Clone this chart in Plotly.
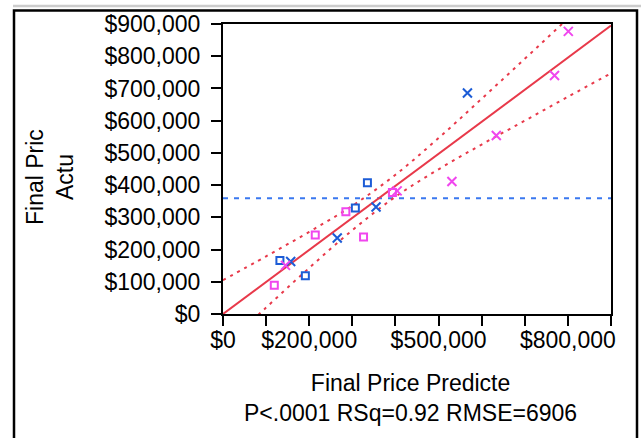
import numpy as np
import plotly.graph_objects as go

# Observations: predicted vs actual final price, by group and marker type
blue_sq_pred = [132000, 191000, 307000, 335000]
blue_sq_act = [166000, 119000, 329000, 407000]

blue_x_pred = [157000, 265000, 355000, 567000]
blue_x_act = [163000, 236000, 332000, 686000]

pink_sq_pred = [119000, 214000, 285000, 326000, 393000]
pink_sq_act = [89000, 245000, 317000, 239000, 377000]

pink_x_pred = [145000, 404000, 531000, 634000, 769000, 801000]
pink_x_act = [151000, 382000, 411000, 554000, 740000, 877000]

# Fitted line and its confidence curves
fit_x = [0, 900000]
fit_y = [0, 895000]
band_x = [0, 100000, 200000, 300000, 400000, 500000, 600000, 700000, 800000, 900000]
band_upper = [105000, 179000, 255000, 336000, 432000, 546000, 668000, 792000, 917000, 1043000]
band_lower = [-105000, 20000, 143000, 260000, 364000, 449000, 526000, 600000, 674000, 747000]

# Axis ticks
y_ticks = [0, 100000, 200000, 300000, 400000, 500000, 600000, 700000, 800000, 900000]
y_labels = ["$0", "$100,000", "$200,000", "$300,000", "$400,000", "$500,000",
            "$600,000", "$700,000", "$800,000", "$900,000"]
x_ticks = y_ticks
x_labels = ["$0", "", "$200,000", "", "", "$500,000", "", "", "$800,000", ""]

BLUE = "#1c5cd6"
PINK = "#f046ee"
RED = "#e8394a"
FONT = "Arial, Liberation Sans, sans-serif"

all_act = blue_sq_act + blue_x_act + pink_sq_act + pink_x_act
mean_act = float(np.mean(all_act))

fig = go.Figure()

fig.add_trace(go.Scatter(x=[0, 900000], y=[mean_act, mean_act], mode="lines",
                         line=dict(color="#3a78f0", width=2, dash="5px,6px"),
                         hoverinfo="skip"))
fig.add_trace(go.Scatter(x=band_x, y=band_upper, mode="lines", line_shape="spline",
                         line=dict(color=RED, width=2, dash="3px,5px")))
fig.add_trace(go.Scatter(x=band_x, y=band_lower, mode="lines", line_shape="spline",
                         line=dict(color=RED, width=2, dash="3px,5px")))
fig.add_trace(go.Scatter(x=fit_x, y=fit_y, mode="lines",
                         line=dict(color=RED, width=2)))

fig.add_trace(go.Scatter(x=blue_sq_pred, y=blue_sq_act, mode="markers",
                         marker=dict(symbol="square-open", size=7, color=BLUE,
                                     line=dict(width=2, color=BLUE))))
fig.add_trace(go.Scatter(x=blue_x_pred, y=blue_x_act, mode="markers",
                         marker=dict(symbol="x-thin-open", size=9, color=BLUE,
                                     line=dict(width=2, color=BLUE))))
fig.add_trace(go.Scatter(x=pink_sq_pred, y=pink_sq_act, mode="markers",
                         marker=dict(symbol="square-open", size=7, color=PINK,
                                     line=dict(width=2, color=PINK))))
fig.add_trace(go.Scatter(x=pink_x_pred, y=pink_x_act, mode="markers",
                         marker=dict(symbol="x-thin-open", size=9, color=PINK,
                                     line=dict(width=2, color=PINK))))

axis_common = dict(showgrid=False, zeroline=False, showline=True, linecolor="black",
                   linewidth=2, mirror=True, ticks="outside", ticklen=10,
                   tickwidth=2, tickcolor="black",
                   tickfont=dict(family=FONT, size=23, color="black"))

fig.update_xaxes(range=[0, 900000], tickvals=x_ticks, ticktext=x_labels,
                 ticklabelstandoff=-6, **axis_common)
fig.update_yaxes(range=[0, 900000], tickvals=y_ticks, ticktext=y_labels,
                 ticklabelstandoff=6, **axis_common)

# Outer frame and light rule above it
W0, W1 = 223, 611
H0, H1 = 24, 314
def px(x):
    return (x - W0) / (W1 - W0)
def py(y):
    return (H1 - y) / (H1 - H0)

fig.add_shape(type="rect", xref="paper", yref="paper",
              x0=px(14), x1=px(637), y0=py(460), y1=py(10.5),
              line=dict(color="black", width=2.5), layer="below")
fig.add_shape(type="line", xref="paper", yref="paper",
              x0=px(13), x1=px(641), y0=py(6), y1=py(6),
              line=dict(color="#cccccc", width=2.5))

fig.add_annotation(text="Final Pric<br>Actu", xref="paper", yref="paper",
                   x=px(50), y=py(177), textangle=-90, showarrow=False,
                   xanchor="center", yanchor="middle",
                   font=dict(family=FONT, size=23, color="black"))
fig.add_annotation(text="Final Price Predicte<br>P<.0001 RSq=0.92 RMSE=6906",
                   xref="paper", yref="paper", x=px(410), y=py(397.5),
                   showarrow=False, xanchor="center", yanchor="middle",
                   font=dict(family=FONT, size=23, color="black"))

fig.update_layout(width=642, height=438, showlegend=False,
                  margin=dict(l=W0, r=642 - W1, t=H0, b=438 - H1),
                  plot_bgcolor="white", paper_bgcolor="white")

fig.write_html("out.html")
